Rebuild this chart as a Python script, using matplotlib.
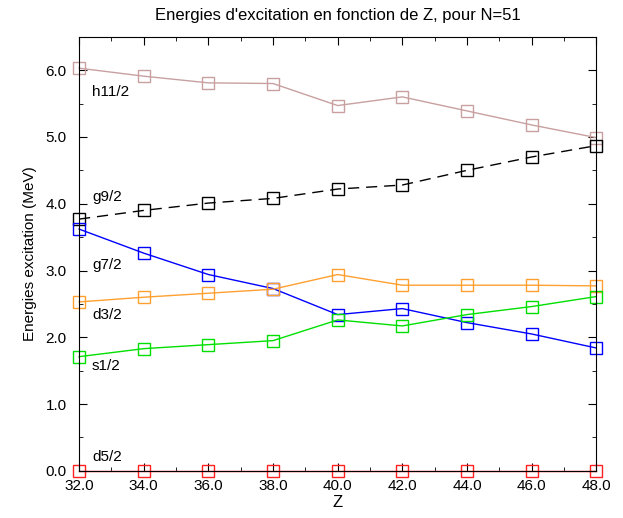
import matplotlib
matplotlib.use("Agg")
import matplotlib.pyplot as plt
from matplotlib.ticker import MultipleLocator, FormatStrFormatter

plt.rcParams["font.family"] = ["Liberation Sans", "DejaVu Sans"]

# Z values (N=51 isotones)
z_values = [32, 34, 36, 38, 40, 42, 44, 46, 48]

# Excitation energies (MeV)
h11_2 = [6.03, 5.91, 5.81, 5.80, 5.47, 5.60, 5.39, 5.18, 4.99]
g9_2 = [3.77, 3.90, 4.01, 4.08, 4.22, 4.28, 4.50, 4.70, 4.87]
g7_2 = [3.62, 3.26, 2.94, 2.73, 2.34, 2.43, 2.22, 2.05, 1.84]
d3_2 = [2.53, 2.60, 2.66, 2.72, 2.94, 2.78, 2.78, 2.78, 2.77]
s1_2 = [1.71, 1.83, 1.89, 1.95, 2.26, 2.17, 2.34, 2.46, 2.61]
d5_2 = [0.0, 0.0, 0.0, 0.0, 0.0, 0.0, 0.0, 0.0, 0.0]

series = [
    ("h11/2", h11_2, "#c8a0a0", "-", 5.67),
    ("g9/2", g9_2, "black", (0, (8, 5)), 4.10),
    ("g7/2", g7_2, "#0000ff", "-", 3.08),
    ("d3/2", d3_2, "#ffa030", "-", 2.34),
    ("s1/2", s1_2, "#00e000", "-", 1.57),
    ("d5/2", d5_2, "#ff2020", "-", 0.21),
]

fig = plt.figure(figsize=(6.23, 5.18), dpi=100)
ax = fig.add_axes([0.127, 0.091, 0.830, 0.838])

for name, values, color, style, label_y in series:
    ax.plot(z_values, values, color=color, linestyle=style, linewidth=1.0,
            marker="s", markersize=9, markerfacecolor="none",
            markeredgecolor=color, markeredgewidth=1.0, clip_on=False)
    ax.text(32.4, label_y, name, fontsize=11, ha="left", va="center")

ax.set_xlim(32, 48)
ax.set_ylim(0, 6.5)
ax.xaxis.set_major_locator(MultipleLocator(2))
ax.xaxis.set_minor_locator(MultipleLocator(1))
ax.yaxis.set_major_locator(MultipleLocator(1))
ax.yaxis.set_minor_locator(MultipleLocator(0.5))
ax.xaxis.set_major_formatter(FormatStrFormatter("%.1f"))
ax.yaxis.set_major_formatter(FormatStrFormatter("%.1f"))
ax.tick_params(which="both", direction="in", top=True, right=True,
               labelsize=11)
ax.tick_params(which="major", length=6)
ax.tick_params(which="minor", length=3)
ax.tick_params(axis="x", which="major", pad=6)
ax.tick_params(axis="y", which="major", pad=9)

ax.set_title("Energies d'excitation en fonction de Z, pour N=51",
             fontsize=12, pad=12)
ax.set_xlabel("Z", fontsize=12, labelpad=1)
ax.set_ylabel("Energies excitation (MeV)", fontsize=11, labelpad=6)

fig.savefig("out.png", dpi=100)
